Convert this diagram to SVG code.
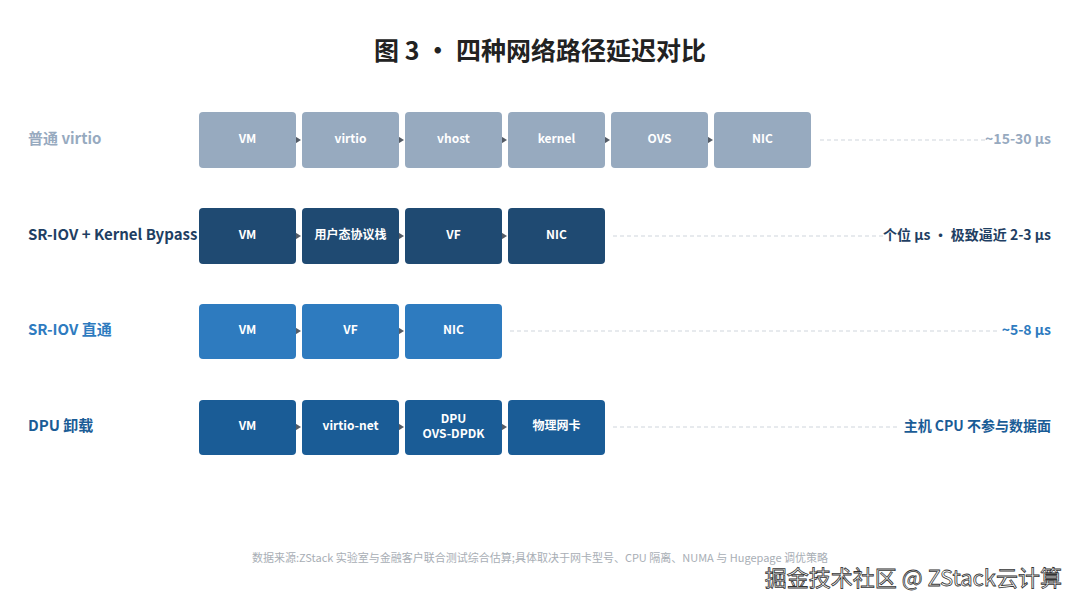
<svg xmlns="http://www.w3.org/2000/svg" width="1080" height="611" viewBox="0 0 1080 611">
<style>
text{font-family:"Noto Sans CJK SC","Noto Sans",sans-serif;font-weight:700}
.bt{fill:#fff;font-size:12px;text-anchor:middle;dominant-baseline:middle}
.lb{font-size:15px;dominant-baseline:middle}
.rt{font-size:14px;text-anchor:end;dominant-baseline:middle}
.dash{stroke:#cfd5dc;stroke-width:1;stroke-dasharray:4 3}
.ar{fill:#555c66}
</style>
<rect width="1080" height="611" fill="#fff"/>
<text x="540" y="53" font-size="25" text-anchor="middle" dominant-baseline="middle" fill="#222">图 3 · 四种网络路径延迟对比</text>
<g id="connectors">
<line class="dash" x1="820" y1="140" x2="985" y2="140"/>
<line class="dash" x1="613" y1="236" x2="885" y2="236"/>
<line class="dash" x1="510" y1="331" x2="1000" y2="331"/>
<line class="dash" x1="613" y1="427" x2="900" y2="427"/>
<g class="ar">
<path d="M293 135l8 5-8 5z"/><path d="M396 135l8 5-8 5z"/><path d="M499 135l8 5-8 5z"/><path d="M602 135l8 5-8 5z"/><path d="M705 135l8 5-8 5z"/>
<path d="M293 231l8 5-8 5z"/><path d="M396 231l8 5-8 5z"/><path d="M499 231l8 5-8 5z"/>
<path d="M293 326l8 5-8 5z"/><path d="M396 326l8 5-8 5z"/>
<path d="M293 422l8 5-8 5z"/><path d="M396 422l8 5-8 5z"/><path d="M499 422l8 5-8 5z"/>
</g>
</g>
<g id="row1" fill="#97aabf">
<text class="lb" x="28" y="140">普通 virtio</text>
<g id="r1n1"><rect x="199" y="112" width="97" height="56" rx="4"/><text class="bt" x="247.5" y="140">VM</text></g>
<g id="r1n2"><rect x="302" y="112" width="97" height="56" rx="4"/><text class="bt" x="350.5" y="140">virtio</text></g>
<g id="r1n3"><rect x="405" y="112" width="97" height="56" rx="4"/><text class="bt" x="453.5" y="140">vhost</text></g>
<g id="r1n4"><rect x="508" y="112" width="97" height="56" rx="4"/><text class="bt" x="556.5" y="140">kernel</text></g>
<g id="r1n5"><rect x="611" y="112" width="97" height="56" rx="4"/><text class="bt" x="659.5" y="140">OVS</text></g>
<g id="r1n6"><rect x="714" y="112" width="97" height="56" rx="4"/><text class="bt" x="762.5" y="140">NIC</text></g>
<text class="rt" x="1051" y="140">~15-30 μs</text>
</g>
<g id="row2" fill="#1f4a72">
<text class="lb" x="28" y="236" fill="#1f3f63">SR-IOV + Kernel Bypass</text>
<g id="r2n1"><rect x="199" y="208" width="97" height="56" rx="4"/><text class="bt" x="247.5" y="236">VM</text></g>
<g id="r2n2"><rect x="302" y="208" width="97" height="56" rx="4"/><text class="bt" x="350.5" y="236">用户态协议栈</text></g>
<g id="r2n3"><rect x="405" y="208" width="97" height="56" rx="4"/><text class="bt" x="453.5" y="236">VF</text></g>
<g id="r2n4"><rect x="508" y="208" width="97" height="56" rx="4"/><text class="bt" x="556.5" y="236">NIC</text></g>
<text class="rt" x="1051" y="236" fill="#1f3f63">个位 μs · 极致逼近 2-3 μs</text>
</g>
<g id="row3" fill="#2e7bbf">
<text class="lb" x="28" y="331">SR-IOV 直通</text>
<g id="r3n1"><rect x="199" y="304" width="97" height="55" rx="4"/><text class="bt" x="247.5" y="331">VM</text></g>
<g id="r3n2"><rect x="302" y="304" width="97" height="55" rx="4"/><text class="bt" x="350.5" y="331">VF</text></g>
<g id="r3n3"><rect x="405" y="304" width="97" height="55" rx="4"/><text class="bt" x="453.5" y="331">NIC</text></g>
<text class="rt" x="1051" y="331">~5-8 μs</text>
</g>
<g id="row4" fill="#1a5c96">
<text class="lb" x="28" y="427">DPU 卸载</text>
<g id="r4n1"><rect x="199" y="400" width="97" height="55" rx="4"/><text class="bt" x="247.5" y="427">VM</text></g>
<g id="r4n2"><rect x="302" y="400" width="97" height="55" rx="4"/><text class="bt" x="350.5" y="427">virtio-net</text></g>
<g id="r4n3"><rect x="405" y="400" width="97" height="55" rx="4"/><text class="bt" x="453.5" y="420">DPU</text><text class="bt" x="453.5" y="435">OVS-DPDK</text></g>
<g id="r4n4"><rect x="508" y="400" width="97" height="55" rx="4"/><text class="bt" x="556.5" y="427">物理网卡</text></g>
<text class="rt" x="1051" y="427">主机 CPU 不参与数据面</text>
</g>
<text x="540" y="562" font-size="11" font-weight="400" text-anchor="middle" fill="#a8aeb5" style="font-weight:400">数据来源:ZStack 实验室与金融客户联合测试综合估算;具体取决于网卡型号、CPU 隔离、NUMA 与 Hugepage 调优策略</text>
<text x="1062" y="586" font-size="22" text-anchor="end" fill="#fff" stroke="#333" stroke-width="0.8" style="font-weight:400">掘金技术社区 @ ZStack云计算</text>
</svg>
